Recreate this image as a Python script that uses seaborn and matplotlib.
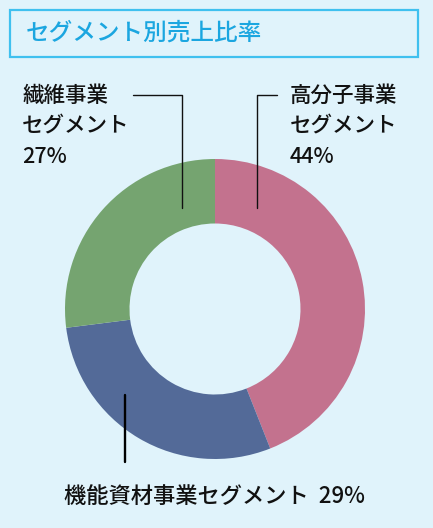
import matplotlib.pyplot as plt
import numpy as np
import seaborn as sns

sns.set_style("white", {"axes.facecolor": "#e0f3fb", "figure.facecolor": "#e0f3fb"})
plt.rcParams["font.family"] = ["Noto Sans CJK JP", "DejaVu Sans"]

# data
title = "セグメント別売上比率"
segments = ["高分子事業\nセグメント", "機能資材事業セグメント", "繊維事業\nセグメント"]
shares = [44, 29, 27]
colors = sns.color_palette(["#c3728e", "#536a98", "#75a470"])

bg = "#e0f3fb"
W, H = 433, 528

fig = plt.figure(figsize=(W / 100, H / 100), dpi=100)
fig.patch.set_facecolor(bg)

# donut: centre (215, 309), radius 150 px
cx, cy, r = 215, 309, 150
ax = fig.add_axes([(cx - r) / W, (H - cy - r) / H, 2 * r / W, 2 * r / H])
ax.pie(
    shares,
    colors=colors,
    startangle=90,
    counterclock=False,
    radius=1,
    wedgeprops=dict(width=0.43, edgecolor="none"),
)
ax.set_xlim(-1, 1)
ax.set_ylim(-1, 1)
ax.set_aspect("equal")
ax.axis("off")

# overlay in pixel coords for title, leaders, labels
ov = fig.add_axes([0, 0, 1, 1])
ov.set_xlim(0, W)
ov.set_ylim(H, 0)
ov.axis("off")
ov.patch.set_alpha(0)

ov.add_patch(plt.Rectangle((10, 9.5), 407.5, 47, fill=False, edgecolor="#3fc0ef", lw=1.6))
ov.text(26, 33, title, color="#1ba6e0", fontsize=17, va="center", ha="left",
        fontweight="medium")

lab_kw = dict(color="#111111", fontsize=15.5, va="center", ha="left",
              linespacing=1.52, fontweight="medium")
ov.text(22, 126.5, f"{segments[2]}\n{shares[2]}%", **lab_kw)
ov.text(290, 126.5, f"{segments[0]}\n{shares[0]}%", **lab_kw)
ov.text(214, 496, f"{segments[1]}  {shares[1]}%", color="#111111", fontsize=16,
        va="center", ha="center", fontweight="medium")

ov.plot([133, 182, 182], [94.5, 94.5, 208], color="#111111", lw=1.0)
ov.plot([277, 257, 257], [94.5, 94.5, 208], color="#111111", lw=1.0)
ov.plot([125, 125], [395, 462], color="#000000", lw=1.7)

fig.savefig("out.png", dpi=100, facecolor=bg)
